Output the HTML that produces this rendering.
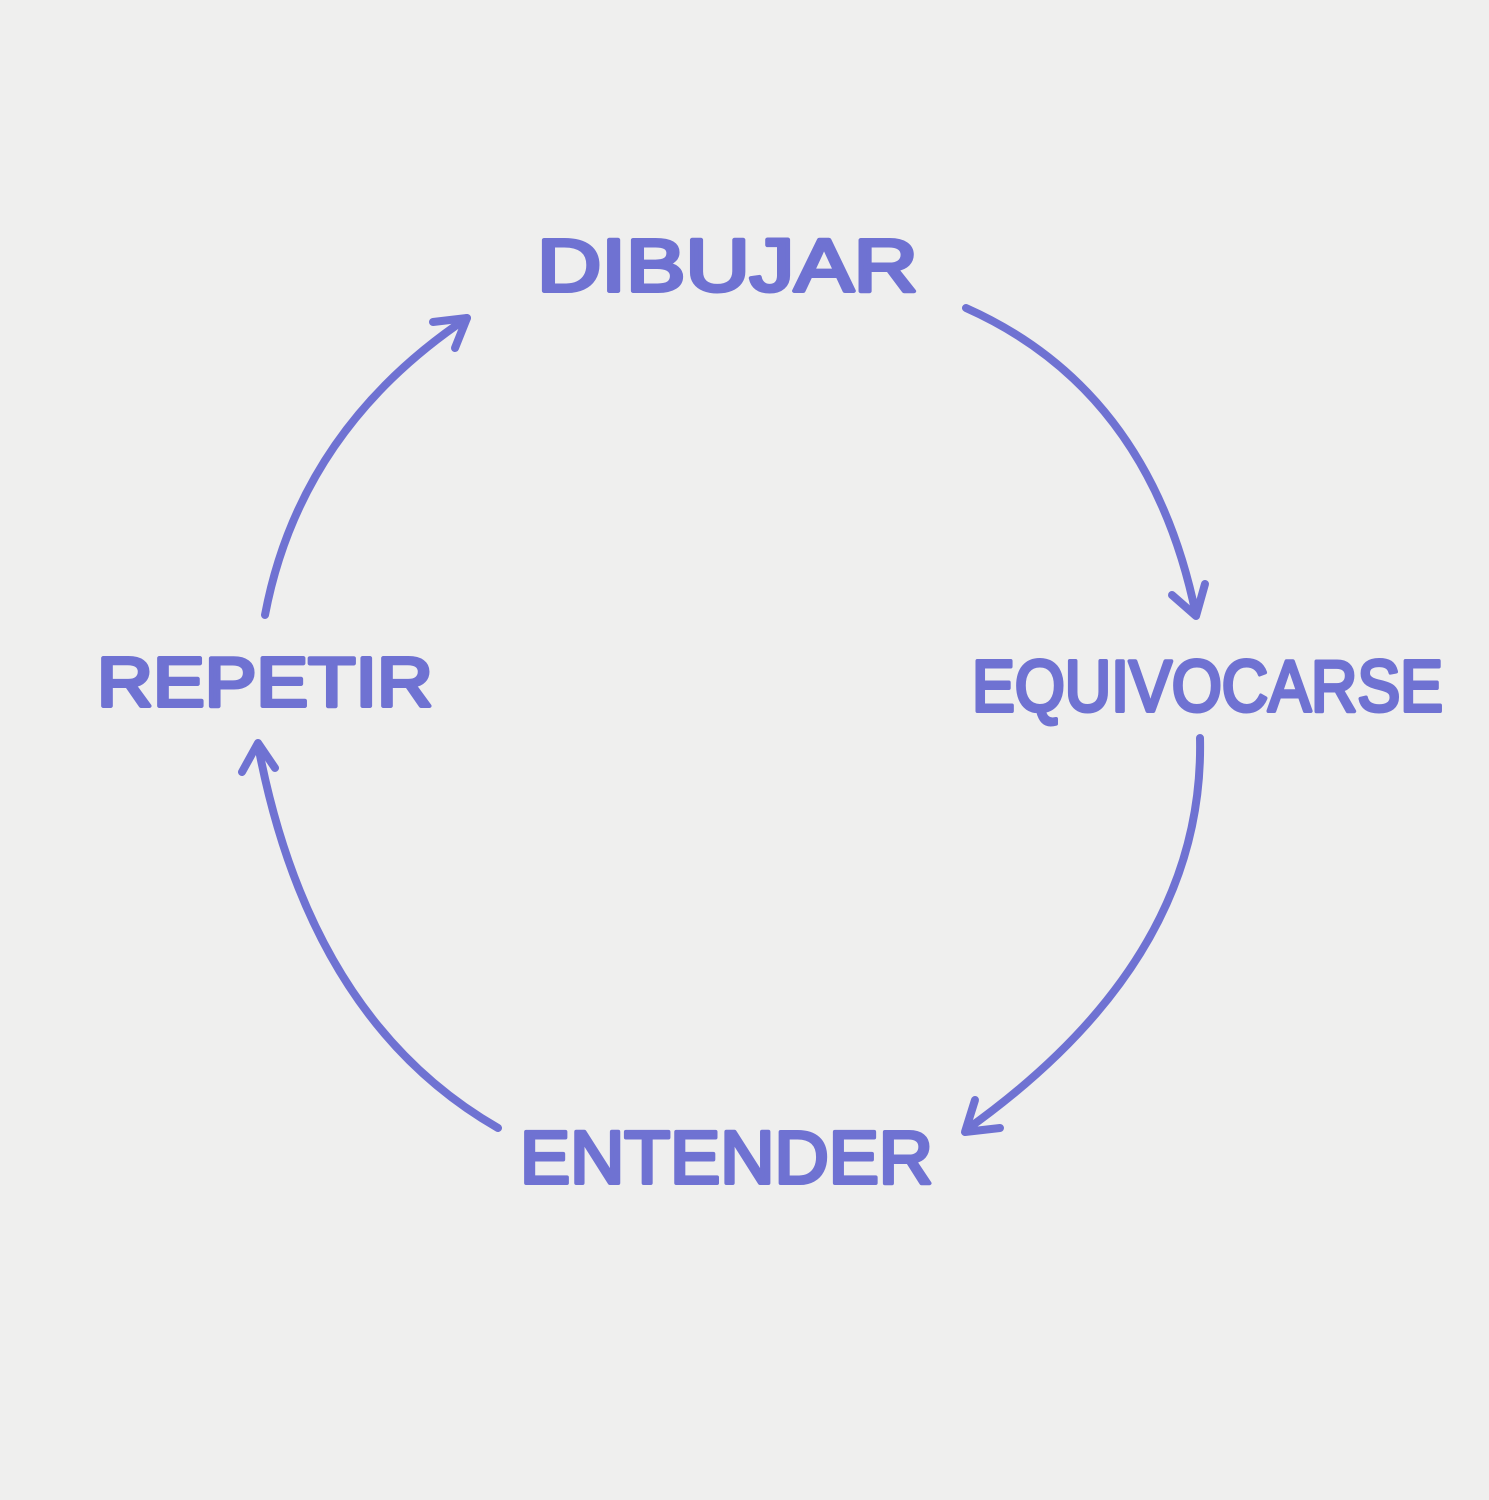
<!DOCTYPE html>
<html><head><meta charset="utf-8"><style>
html,body{margin:0;padding:0;background:#efefee;}
svg{display:block}
text{font-family:"Liberation Sans",sans-serif;font-weight:normal;fill:#6f72d2;stroke:#6f72d2;stroke-width:4;stroke-linejoin:round;}
</style></head><body>
<svg width="1489" height="1500" viewBox="0 0 1489 1500">
<rect width="1489" height="1500" fill="#efefee"/>
<g fill="none" stroke="#6f72d2" stroke-width="8" stroke-linecap="round" stroke-linejoin="round">
<path d="M966 308 Q1150 390 1196 615"/>
<path d="M1172 595 L1196 616 L1205 584"/>
<path d="M1200 738 Q1205 960 966 1130"/>
<path d="M975 1100 L965 1132 L1000 1128"/>
<path d="M498 1128 Q310 1020 258 745"/>
<path d="M242 772 L258 743 L275 768"/>
<path d="M265 615 Q300 430 467 318"/>
<path d="M433 322 L467 318 L455 348"/>
</g>
<text x="537" y="291" font-size="74" textLength="381" lengthAdjust="spacingAndGlyphs">DIBUJAR</text>
<text x="972" y="711" font-size="72" textLength="471" lengthAdjust="spacingAndGlyphs">EQUIVOCARSE</text>
<text x="97" y="706" font-size="70" textLength="336" lengthAdjust="spacingAndGlyphs">REPETIR</text>
<text x="520" y="1183" font-size="74" textLength="413" lengthAdjust="spacingAndGlyphs">ENTENDER</text>
</svg>
</body></html>
